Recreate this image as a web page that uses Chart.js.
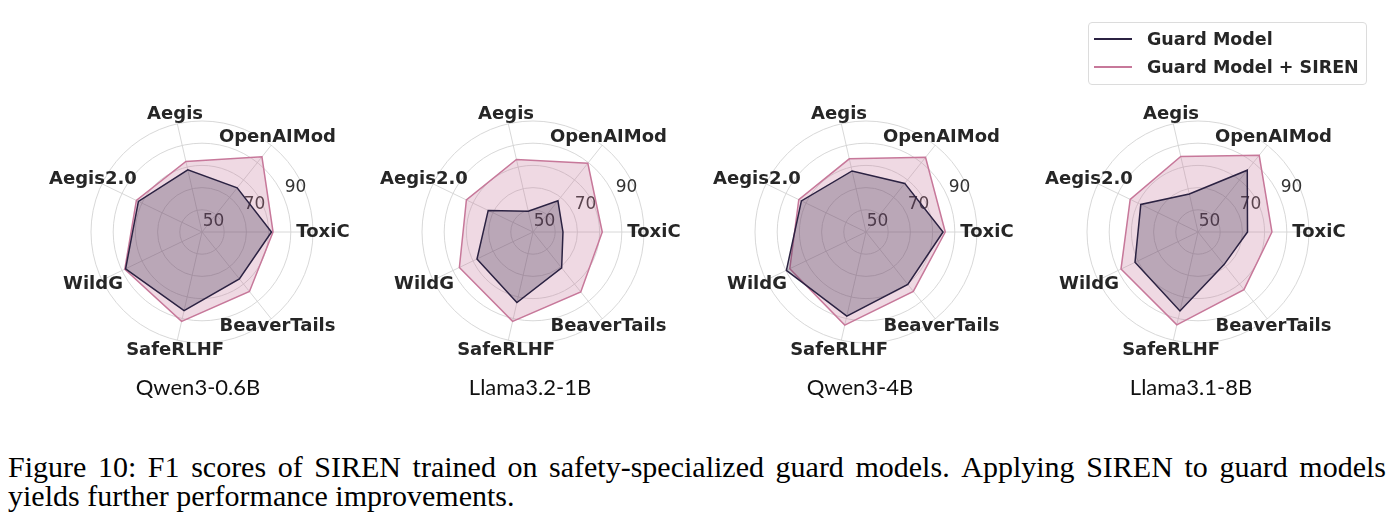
<!DOCTYPE html>
<html>
<head>
<meta charset="utf-8">
<script src="https://cdn.jsdelivr.net/npm/chart.js@4.4.0/dist/chart.umd.min.js"></script>
<style>
  html, body { margin: 0; padding: 0; background: #ffffff; }
  #page { position: relative; width: 1393px; height: 532px; overflow: hidden; background: #fff; }
  canvas.radar { position: absolute; }
  .sub { position: absolute; width: 240px; text-align: center; font-family: Lato, "Open Sans", sans-serif; font-size: 22px; color: #111; }
  #legend { position: absolute; left: 1088px; top: 22px; width: 279px; height: 63px; border: 1px solid #dcdcdc; border-radius: 4px; box-sizing: border-box; font-family: "DejaVu Sans", sans-serif; font-weight: bold; font-size: 17.5px; color: #262626; }
  .lrow { position: absolute; left: 0; height: 24px; line-height: 24px; white-space: nowrap; }
  .lline { position: absolute; left: 5px; top: 11px; width: 38px; height: 2px; }
  .ltext { position: absolute; left: 58px; top: 0; }
  #caption { position: absolute; left: 8px; top: 452px; width: 1378px; font-family: "Liberation Serif", "Times New Roman", serif; font-size: 30px; line-height: 29px; color: #000; }
</style>
</head>
<body>
<div id="page">
  <canvas id="c0" class="radar" width="330" height="300"></canvas>
  <canvas id="c1" class="radar" width="330" height="300"></canvas>
  <canvas id="c2" class="radar" width="330" height="300"></canvas>
  <canvas id="c3" class="radar" width="330" height="300"></canvas>
  <div id="subs"></div>
  <div id="legend"></div>
  <div id="caption">
    <div style="display:flex; justify-content:space-between;" id="line1"></div>
    <div id="line2">yields further performance improvements.</div>
  </div>
</div>
<script>
// ---- data (Chart.js order: clockwise starting at east) ----
const categories = ['ToxiC', 'BeaverTails', 'SafeRLHF', 'WildG', 'Aegis2.0', 'Aegis', 'OpenAIMod'];
const modelNames = ['Qwen3-0.6B', 'Llama3.2-1B', 'Qwen3-4B', 'Llama3.1-8B'];
const seriesNames = ['Guard Model', 'Guard Model + SIREN'];
const tickLabels = [50, 70, 90];

const guardQwen06 = [71.3, 67.0, 76.3, 78.2, 71.8, 68.7, 65.4];
const sirenQwen06 = [72.0, 74.3, 81.3, 78.6, 72.8, 72.6, 83.3];
const guardLlama1 = [53.5, 60.7, 72.6, 68.0, 62.4, 49.6, 58.0];
const sirenLlama1 = [71.2, 74.5, 81.3, 76.8, 73.3, 73.5, 79.6];
const guardQwen4 = [74.7, 70.2, 78.9, 79.8, 72.3, 68.2, 68.0];
const sirenQwen4 = [75.7, 74.2, 83.0, 78.1, 73.6, 73.8, 83.0];
const guardLlama8 = [62.3, 58.8, 76.5, 71.5, 68.6, 57.6, 75.6];
const sirenLlama8 = [73.3, 73.2, 82.9, 78.5, 73.9, 74.9, 84.2];

const guardSeries = [guardQwen06, guardLlama1, guardQwen4, guardLlama8];
const sirenSeries = [sirenQwen06, sirenLlama1, sirenQwen4, sirenLlama8];

// ---- styling / layout ----
const darkColor = '#2b2242';
const pinkColor = '#c7789a';
const centersX = [202, 533, 866, 1198];
const centerY = 232;
const canvasW = 330, canvasH = 300, radius = 111;
const padX = (canvasW - 2 * radius) / 2, padY = (canvasH - 2 * radius) / 2;

const textPlugin = {
  id: 'radarText',
  beforeDatasetsDraw(chart) {
    const s = chart.scales.r, ctx = chart.ctx;
    ctx.save();
    ctx.font = '17px "DejaVu Sans"';
    ctx.fillStyle = '#333333';
    ctx.textAlign = 'center';
    ctx.textBaseline = 'middle';
    const a = 22.5 * Math.PI / 180;
    tickLabels.forEach(v => {
      const d = s.getDistanceFromCenterForValue(v);
      ctx.fillText(String(v), s.xCenter + d * Math.cos(a) - 9, s.yCenter - d * Math.sin(a) - 2);
    });
    ctx.restore();
  },
  afterDraw(chart) {
    const s = chart.scales.r, ctx = chart.ctx;
    ctx.save();
    ctx.font = 'bold 18px "DejaVu Sans"';
    ctx.fillStyle = '#262626';
    ctx.textAlign = 'center';
    ctx.textBaseline = 'middle';
    chart.data.labels.forEach((lab, i) => {
      const p = s.getPointPosition(i, s.drawingArea * 1.09);
      ctx.fillText(lab, p.x, p.y);
    });
    ctx.restore();
  }
};

for (let k = 0; k < 4; k++) {
  const cv = document.getElementById('c' + k);
  cv.style.left = (centersX[k] - canvasW / 2) + 'px';
  cv.style.top = (centerY - canvasH / 2) + 'px';
  new Chart(cv, {
    type: 'radar',
    data: {
      labels: categories,
      datasets: [
        { label: seriesNames[0], data: guardSeries[k], borderColor: darkColor, backgroundColor: 'rgba(43,34,66,0.27)', borderWidth: 1.5, fill: true, pointRadius: 0 },
        { label: seriesNames[1], data: sirenSeries[k], borderColor: pinkColor, backgroundColor: 'rgba(196,116,150,0.27)', borderWidth: 1.5, fill: true, pointRadius: 0 }
      ]
    },
    options: {
      responsive: false,
      animation: false,
      devicePixelRatio: 1,
      layout: { padding: { left: padX, right: padX, top: padY, bottom: padY } },
      plugins: { legend: { display: false }, tooltip: { enabled: false } },
      elements: { line: { tension: 0 } },
      scales: {
        r: {
          min: 40, max: 90, startAngle: 90,
          ticks: { display: false, stepSize: 10 },
          grid: { circular: true, color: '#d4d4d4', lineWidth: 0.9 },
          angleLines: { color: '#d4d4d4', lineWidth: 0.9 },
          pointLabels: { display: false }
        }
      }
    },
    plugins: [textPlugin]
  });
}

// subtitles
const subs = document.getElementById('subs');
const subX = [198, 530, 860, 1191];
modelNames.forEach((n, k) => {
  const d = document.createElement('div');
  d.className = 'sub';
  d.textContent = n;
  d.style.left = (subX[k] - 120) + 'px';
  d.style.top = '373px';
  subs.appendChild(d);
});

// legend
const lg = document.getElementById('legend');
[darkColor, pinkColor].forEach((c, i) => {
  const row = document.createElement('div');
  row.className = 'lrow';
  row.style.top = (4 + i * 28) + 'px';
  row.innerHTML = '<div class="lline" style="background:' + c + '"></div><div class="ltext"></div>';
  row.querySelector('.ltext').textContent = seriesNames[i];
  lg.appendChild(row);
});

// caption line 1 justified
const line1 = 'Figure 10: F1 scores of SIREN trained on safety-specialized guard models. Applying SIREN to guard models';
const l1 = document.getElementById('line1');
line1.split(' ').forEach(w => { const s = document.createElement('span'); s.textContent = w; l1.appendChild(s); });
</script>
</body>
</html>
